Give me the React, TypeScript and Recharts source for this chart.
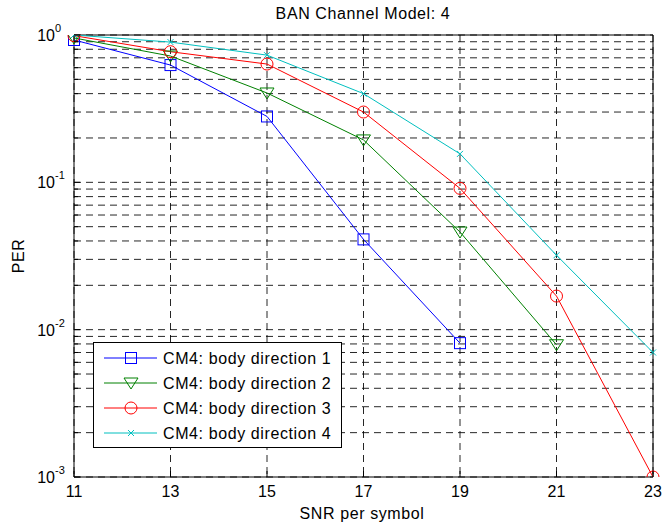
import { CartesianGrid, Line, LineChart, ReferenceLine, XAxis, YAxis } from "recharts";

const snr = [11, 13, 15, 17, 19, 21, 23];
const dir1 = [0.925, 0.625, 0.28, 0.041, 0.0081];
const dir2 = [0.955, 0.72, 0.404, 0.194, 0.046, 0.0079];
const dir3 = [0.99, 0.77, 0.635, 0.3, 0.091, 0.0169, 0.001];
const dir4 = [1.0, 0.895, 0.73, 0.4, 0.156, 0.032, 0.007];

const xTicks = [11, 13, 15, 17, 19, 21, 23];
const yTicks = [
  0.001, 0.002, 0.003, 0.004, 0.005, 0.006, 0.007, 0.008, 0.009,
  0.01, 0.02, 0.03, 0.04, 0.05, 0.06, 0.07, 0.08, 0.09,
  0.1, 0.2, 0.3, 0.4, 0.5, 0.6, 0.7, 0.8, 0.9,
  1
];
const seriesNames = [
  "CM4: body direction 1",
  "CM4: body direction 2",
  "CM4: body direction 3",
  "CM4: body direction 4"
];

const colors = ["#0000ff", "#008000", "#ff0000", "#00bfbf"];
const FONT = "'Liberation Sans', Arial, Helvetica, sans-serif";

const data = snr.map((x, i) => ({
  snr: x,
  d1: dir1[i],
  d2: dir2[i],
  d3: dir3[i],
  d4: dir4[i]
}));

type Kind = "square" | "tri" | "circle" | "x";
const kinds: Kind[] = ["square", "tri", "circle", "x"];

function Marker({ kind, cx, cy, color }: { kind: Kind; cx: number; cy: number; color: string }) {
  if (kind === "square")
    return <rect x={cx - 5.5} y={cy - 5.5} width={11} height={11} fill="none" stroke={color} />;
  if (kind === "tri")
    return (
      <polygon
        points={`${cx - 7},${cy - 5} ${cx + 7},${cy - 5} ${cx},${cy + 6}`}
        fill="none"
        stroke={color}
      />
    );
  if (kind === "circle") return <circle cx={cx} cy={cy} r={6} fill="none" stroke={color} />;
  return (
    <g stroke={color}>
      <line x1={cx - 3} y1={cy - 3} x2={cx + 3} y2={cy + 3} />
      <line x1={cx - 3} y1={cy + 3} x2={cx + 3} y2={cy - 3} />
    </g>
  );
}

function makeDot(kind: Kind, color: string) {
  return (p: any) => {
    if (p.cx == null || p.cy == null || p.value == null) return <g key={p.key} />;
    return (
      <g key={p.key}>
        <Marker kind={kind} cx={p.cx} cy={p.cy} color={color} />
      </g>
    );
  };
}

function YTick(props: any) {
  const { x, y, payload } = props;
  const v = payload.value as number;
  const exp = Math.round(Math.log10(v));
  const major = Math.abs(Math.pow(10, exp) - v) < 1e-9;
  return (
    <g>
      <line x1={x} x2={x + (major ? 6 : 4)} y1={y} y2={y} stroke="#000" />
      {major && (
        <>
          <text x={x - 19} y={y + 6} textAnchor="end" fontSize={16} fontFamily={FONT} fill="#000">
            10
          </text>
          <text x={x - 19} y={y - 3} fontSize={11} fontFamily={FONT} fill="#000">
            {exp}
          </text>
        </>
      )}
    </g>
  );
}

function XTick(props: any) {
  const { x, y, payload } = props;
  return (
    <g>
      <line x1={x} x2={x} y1={y} y2={y - 6} stroke="#000" />
      <text x={x} y={y + 20} textAnchor="middle" fontSize={16} fontFamily={FONT} fill="#000">
        {payload.value}
      </text>
    </g>
  );
}

function LegendBox() {
  return (
    <svg
      width={250}
      height={107}
      style={{ position: "absolute", left: 93, top: 342 }}
    >
      <rect x={0.5} y={0.5} width={248} height={105} fill="#fff" stroke="#000" />
      {seriesNames.map((name, i) => {
        const cy = 16 + i * 25;
        return (
          <g key={name}>
            <line x1={11} x2={64} y1={cy} y2={cy} stroke={colors[i]} />
            <Marker kind={kinds[i]} cx={38} cy={cy} color={colors[i]} />
            <text
              x={70}
              y={cy + 6}
              fontSize={16}
              fontFamily={FONT}
              letterSpacing={0.6}
              fill="#000"
            >
              {name}
            </text>
          </g>
        );
      })}
    </svg>
  );
}

export default function App() {
  const keys = ["d1", "d2", "d3", "d4"];
  return (
    <div style={{ position: "absolute", left: 0, top: 0, width: 662, height: 526, background: "#fff" }}>
      <LineChart
        width={662}
        height={526}
        data={data}
        margin={{ top: 35, right: 9, left: 0, bottom: 0 }}
      >
        <CartesianGrid stroke="#000" strokeOpacity={0.85} strokeDasharray="7 5" />
        <XAxis
          dataKey="snr"
          type="number"
          domain={[11, 23]}
          ticks={xTicks}
          height={49}
          tickSize={0}
          tickMargin={0}
          tickLine={false}
          axisLine={{ stroke: "#000" }}
          tick={<XTick />}
          interval={0}
        />
        <YAxis
          type="number"
          scale="log"
          domain={[0.001, 1]}
          ticks={yTicks}
          allowDataOverflow
          width={74}
          tickSize={0}
          tickMargin={0}
          tickLine={false}
          axisLine={{ stroke: "#000" }}
          tick={<YTick />}
          interval={0}
        />
        <ReferenceLine y={1} stroke="#000" />
        <ReferenceLine x={23} stroke="#000" />
        {keys.map((k, i) => (
          <Line
            key={k}
            dataKey={k}
            stroke={colors[i]}
            strokeWidth={1}
            dot={makeDot(kinds[i], colors[i])}
            activeDot={false}
            isAnimationActive={false}
          />
        ))}
        <text x={363} y={19} textAnchor="middle" fontSize={16} fontFamily={FONT} letterSpacing={0.6} fill="#000">
          BAN Channel Model: 4
        </text>
        <text x={362} y={519} textAnchor="middle" fontSize={16} fontFamily={FONT} letterSpacing={0.6} fill="#000">
          SNR per symbol
        </text>
        <text
          x={24}
          y={256}
          textAnchor="middle"
          fontSize={16}
          fontFamily={FONT}
          letterSpacing={0.6}
          fill="#000"
          transform="rotate(-90 24 256)"
        >
          PER
        </text>
      </LineChart>
      <LegendBox />
    </div>
  );
}
